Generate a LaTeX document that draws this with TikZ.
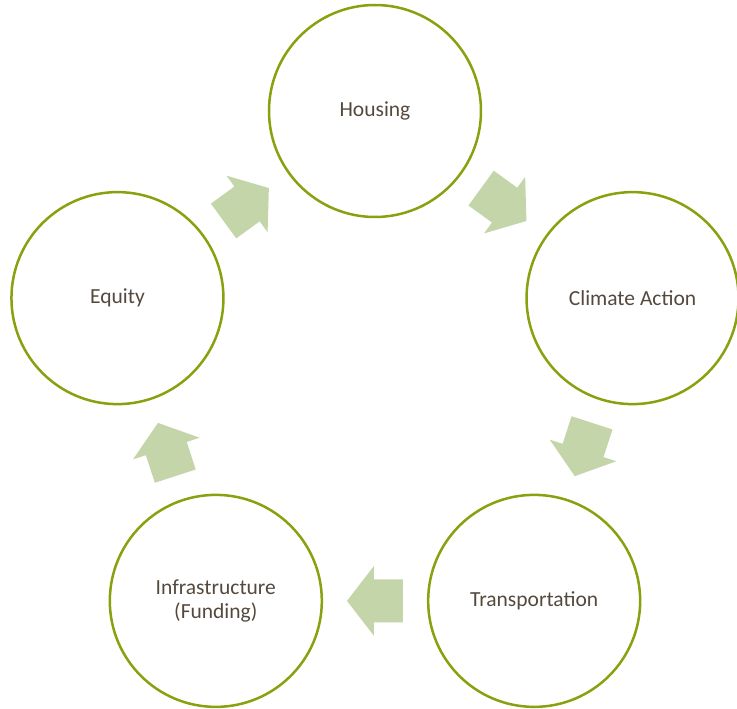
\documentclass[tikz,border=0pt]{standalone}
\usepackage{fontspec}
\setmainfont{Carlito}
\definecolor{ring}{RGB}{134,162,14}
\definecolor{arr}{RGB}{196,213,170}
\definecolor{txt}{RGB}{85,73,61}
\begin{document}
\begin{tikzpicture}[x=1pt,y=1pt,
  stage/.style={circle,draw=ring,line width=2.5pt,minimum size=212pt,inner sep=0pt,
    text=txt,font=\fontsize{21.5}{23.5}\selectfont,align=center},
  blockarrow/.style={fill=arr,draw=none}]
\useasboundingbox (-375,-327.2) rectangle (362,381.8);
\node[stage] (h) at (90:270.8) {Housing};
\node[stage] (c) at (18:270.8) {Climate Action};
\node[stage] (t) at (-54:270.8) {Transportation};
\node[stage] (i) at (-126:270.8) {Infrastructure\\(Funding)};
\node[stage] (e) at (162:270.8) {Equity};
\foreach \a/\n in {54/a1,-18/a2,-90/a3,-162/a4,126/a5}{
  \coordinate (\n) at (\a:219.1);
  \fill[blockarrow,shift={(\n)},rotate=\a-90]
    (-28,-21.5) -- (1,-21.5) -- (1,-35) -- (28,0) -- (1,35) -- (1,21.5) -- (-28,21.5) -- cycle;
}
\end{tikzpicture}
\end{document}
